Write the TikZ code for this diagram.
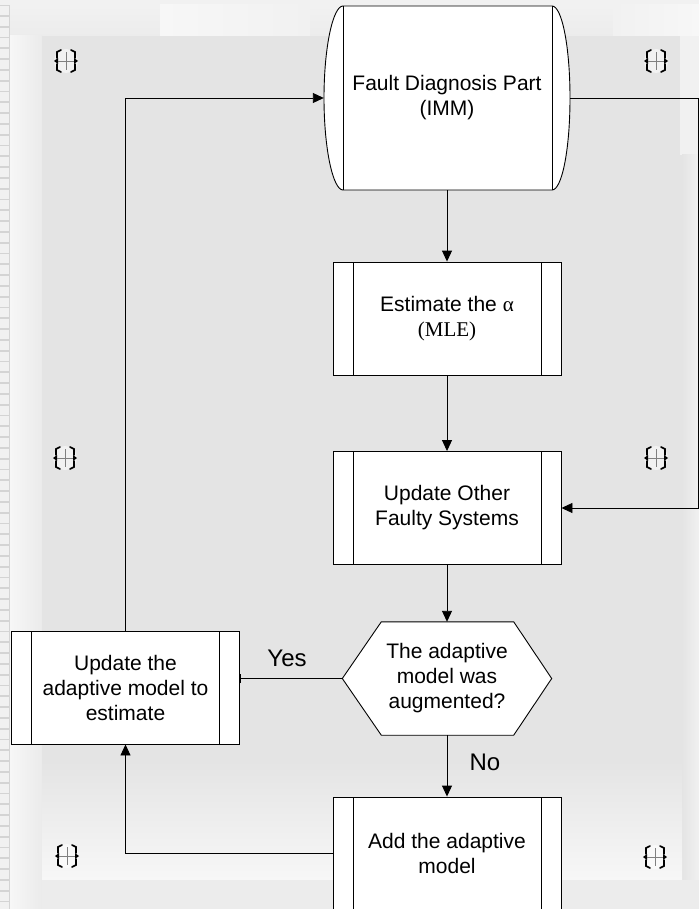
\documentclass[tikz,border=0pt]{standalone}
\usepackage{fontspec}
\setmainfont{Liberation Sans}
\newfontfamily\tnr{Liberation Serif}
\usetikzlibrary{arrows.meta,calc}

\definecolor{panel}{HTML}{E4E4E4}
\definecolor{pale}{HTML}{F1F1F1}
\definecolor{paler}{HTML}{F7F7F7}
\definecolor{stripe}{HTML}{D4D4D4}

\tikzset{
  txt/.style={font=\fontsize{21}{25}\selectfont, align=center, inner sep=0pt},
  tag/.style={font=\fontsize{24}{28}\selectfont, inner sep=0pt},
  proc/.style={txt, draw, line width=0.9pt, fill=white,
    minimum width=228pt, minimum height=113pt,
    path picture={
      \draw[line width=0.9pt]
        ([xshift=20pt]path picture bounding box.north west) -- ([xshift=20pt]path picture bounding box.south west)
        ([xshift=-20pt]path picture bounding box.north east) -- ([xshift=-20pt]path picture bounding box.south east);
    }},
  flow/.style={line width=0.9pt, -{Triangle[length=11pt,width=10pt]}},
  handle/.pic={
    \fill[white, opacity=0.55] (0,0) circle (12);
    \draw[line width=1.7pt, line cap=round]
      (-5,-11) -- (-9,-9) -- (-9,-3) (-9,3) -- (-9,9) -- (-5,11)
      (5,-11) -- (9,-9) -- (9,-3) (9,3) -- (9,9) -- (5,11);
    \fill (-12,0) -- (-8,-3) -- (-8,3) -- cycle;
    \fill (12,0) -- (8,-3) -- (8,3) -- cycle;
    \draw[line width=0.5pt, black!50] (-8,0) -- (8,0) (0,-9) -- (0,9);
  }
}

\begin{document}
\begin{tikzpicture}[x=1pt,y=-1pt]
\useasboundingbox (0,0) rectangle (699,909);

% slide background
\fill[panel] (0,0) rectangle (699,909);
\fill[pale] (0,0) rectangle (699,5);
\draw[stripe, line width=0.6pt] (0,5) -- (699,5);
\shade[top color=pale, bottom color=panel!70!white] (10,5) rectangle (699,36);
\shade[left color=paler, right color=pale] (160,5) rectangle (310,36);
\shade[left color=pale, right color=paler] (613,5) rectangle (699,36);
\shade[left color=paler, right color=panel!75!white] (10,36) rectangle (42,909);
\fill[pale] (680,36) rectangle (699,155);
\shade[left color=panel, right color=pale] (682,155) rectangle (699,909);
\shade[top color=panel, bottom color=paler] (42,760) rectangle (682,880);
\fill[panel!70!white] (42,880) rectangle (699,909);
% left border stripes
\fill[stripe] (0,5) rectangle (10,909);
\foreach \k in {0,...,84}
  \fill[pale] (0,{6+\k*10.8}) rectangle (9,{15+\k*10.8});

% corner handles
\foreach \p in {(66,61),(656,61),(65,458),(656,458),(67,856),(655,857)}
  \pic at \p {handle};

% terminal shape with bulging sides
\filldraw[fill=white, line width=0.9pt]
  (343,6) -- (552,6) .. controls (562,6) and (570,47) .. (570,98)
  .. controls (570,149) and (562,190) .. (552,190) -- (343,190)
  .. controls (333,190) and (324,149) .. (324,98)
  .. controls (324,47) and (333,6) .. (343,6) -- cycle;
\draw[line width=0.9pt] (343,6) -- (343,190) (552,6) -- (552,190);
\node[txt, minimum width=246pt, minimum height=184pt] (fdp) at (447,98)
  {Fault Diagnosis Part\\(IMM)};

% process boxes
\node[proc] (est) at (447,318.5) {Estimate the {\tnr α}\\{\tnr (MLE)}};
\node[proc] (upd) at (447,508) {Update Other\\Faulty Systems};
\node[proc] (adapt) at (125.5,687.5) {Update the\\adaptive model to\\estimate};
\node[proc] (add) at (447,853.5) {Add the adaptive\\model};

% decision
\node[minimum width=209pt, minimum height=113pt, inner sep=0pt] (hex) at (447,678.5) {};
\filldraw[fill=white, line width=0.9pt]
  (hex.west) -- ([xshift=39pt]hex.north west) -- ([xshift=-38pt]hex.north east)
  -- (hex.east) -- ([xshift=-38pt]hex.south east) -- ([xshift=39pt]hex.south west) -- cycle;
\node[txt] (hextxt) at (hex) {The adaptive\\model was\\augmented?};

% connectors
\coordinate (rt) at (698,98);
\draw[flow] (fdp.south) -- (est.north);
\draw[flow] (est.south) -- (upd.north);
\draw[flow] (upd.south) -- (hex.north);
\draw[flow] (hex.south) -- (add.north);
\draw[line width=0.9pt, -{Bar[width=9pt,line width=1.2pt]}] (hex.west) -- (hex.west -| adapt.east);
\draw[flow] (add.west) -| (adapt.south);
\draw[flow] (adapt.north) |- (fdp.west);
\draw[flow] (fdp.east) -- (rt) |- (upd.east);

% branch labels
\node[tag] (yes) at (287,658) {Yes};
\node[tag] (no) at (485,762) {No};
\end{tikzpicture}
\end{document}
